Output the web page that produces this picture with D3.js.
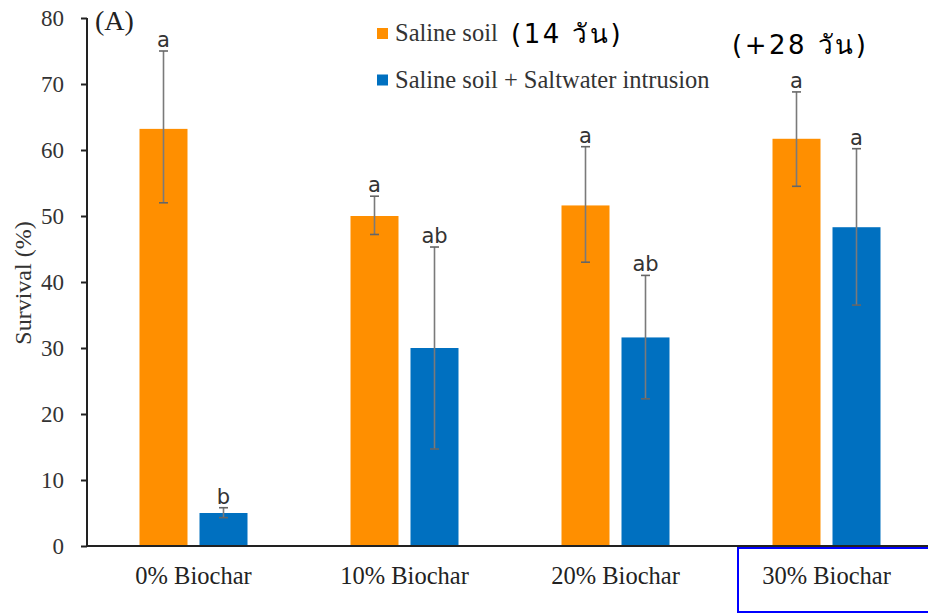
<!DOCTYPE html>
<html>
<head>
<meta charset="utf-8">
<script src="https://cdn.jsdelivr.net/npm/d3@7"></script>
<style>
  html, body { margin: 0; padding: 0; background: #fff; }
  svg { display: block; }
</style>
</head>
<body>
<svg id="chart" width="928" height="614"></svg>
<script>
// Treatments (biochar share) and the two soil conditions
const categories = ["0% Biochar", "10% Biochar", "20% Biochar", "30% Biochar"];
const seriesNames = ["Saline soil", "Saline soil + Saltwater intrusion"];

// Mean survival (%) per treatment
const salineMean = [63.2, 50.0, 51.6, 61.7];
const intrusionMean = [5.0, 30.0, 31.6, 48.3];

// Error bar limits (low / high)
const salineLow = [52.0, 47.2, 43.0, 54.5];
const salineHigh = [75.0, 53.0, 60.5, 68.8];
const intrusionLow = [4.3, 14.7, 22.3, 36.5];
const intrusionHigh = [5.8, 45.3, 41.0, 60.2];

// Significance letters
const salineLetters = ["a", "a", "a", "a"];
const intrusionLetters = ["b", "ab", "ab", "a"];

const yTicks = [0, 10, 20, 30, 40, 50, 60, 70, 80];
const colors = ["#FF8F00", "#0070C0"];

const svg = d3.select("#chart");
const serif = "'Liberation Serif', 'Times New Roman', serif";
const sans = "'DejaVu Sans', 'Open Sans', sans-serif";

const x = d3.scaleBand().domain(categories).range([88, 932]);
const y = d3.scaleLinear().domain([0, 80]).range([546, 18]);
const barW = 48, offset = 30;

// Bars and error bars for each series
const series = [
  { mean: salineMean, low: salineLow, high: salineHigh, letters: salineLetters, dx: -offset, color: colors[0] },
  { mean: intrusionMean, low: intrusionLow, high: intrusionHigh, letters: intrusionLetters, dx: offset, color: colors[1] }
];

series.forEach(s => {
  const rows = categories.map((c, i) => ({
    c, v: s.mean[i], lo: s.low[i], hi: s.high[i], l: s.letters[i],
    cx: x(c) + x.bandwidth() / 2 + s.dx
  }));
  const g = svg.append("g");
  g.selectAll("rect").data(rows).join("rect")
    .attr("x", d => d.cx - barW / 2)
    .attr("y", d => y(d.v))
    .attr("width", barW)
    .attr("height", d => y(0) - y(d.v))
    .attr("fill", s.color);

  g.selectAll("line.stem").data(rows).join("line")
    .attr("class", "stem")
    .attr("x1", d => d.cx).attr("x2", d => d.cx)
    .attr("y1", d => y(d.lo)).attr("y2", d => y(d.hi))
    .attr("stroke", "#7a7a7a").attr("stroke-width", 1.6);
  ["lo", "hi"].forEach(k => {
    g.selectAll("line.cap-" + k).data(rows).join("line")
      .attr("class", "cap-" + k)
      .attr("x1", d => d.cx - 4.5).attr("x2", d => d.cx + 4.5)
      .attr("y1", d => y(d[k])).attr("y2", d => y(d[k]))
      .attr("stroke", "#666").attr("stroke-width", 1.6);
  });

  g.selectAll("text").data(rows).join("text")
    .attr("x", d => d.cx)
    .attr("y", d => y(d.hi) - 4)
    .attr("text-anchor", "middle")
    .attr("font-family", sans)
    .attr("font-size", 21)
    .attr("fill", "#333")
    .text(d => d.l);
});

// Y axis
const yAxis = svg.append("g")
  .attr("transform", "translate(87,0)")
  .call(d3.axisLeft(y).tickValues(yTicks).tickSize(6).tickPadding(17));
yAxis.select(".domain").attr("stroke", "#222").attr("stroke-width", 2)
  .attr("d", `M0,${y(80)}V${y(0)}`);
yAxis.selectAll(".tick line").attr("stroke", "#222").attr("stroke-width", 2);
yAxis.selectAll(".tick text")
  .attr("font-family", serif).attr("font-size", 23).attr("fill", "#333");

// X axis
const xAxis = svg.append("g")
  .attr("transform", `translate(0,${y(0)})`)
  .call(d3.axisBottom(x).tickSize(0));
xAxis.select(".domain").attr("stroke", "#222").attr("stroke-width", 2)
  .attr("d", `M87,0H932`);
xAxis.selectAll(".tick text")
  .attr("y", 38).attr("dy", null)
  .attr("font-family", serif).attr("font-size", 24.5).attr("fill", "#222");

// Y axis title
svg.append("text")
  .attr("transform", `translate(31,283) rotate(-90)`)
  .attr("text-anchor", "middle")
  .attr("font-family", serif).attr("font-size", 24).attr("fill", "#333")
  .text("Survival (%)");

// Panel tag
svg.append("text")
  .attr("x", 95).attr("y", 30)
  .attr("font-family", serif).attr("font-size", 28).attr("fill", "#222")
  .text("(A)");

// Legend
const legend = svg.append("g");
seriesNames.forEach((name, i) => {
  const ly = 33.5 + i * 46.5;
  legend.append("rect")
    .attr("x", 377).attr("y", ly - 5.5).attr("width", 11).attr("height", 11)
    .attr("fill", colors[i]);
  legend.append("text")
    .attr("x", 395).attr("y", ly + 7.5)
    .attr("font-family", serif).attr("font-size", 24.5).attr("fill", "#333")
    .text(name);
});

// Time annotations
svg.append("text")
  .attr("x", 511).attr("y", 43)
  .attr("font-family", sans).attr("font-size", 26).attr("letter-spacing", 2.5).attr("fill", "#000")
  .text("(14 วัน)");
svg.append("text")
  .attr("x", 732).attr("y", 54)
  .attr("font-family", sans).attr("font-size", 26).attr("letter-spacing", 2.5).attr("fill", "#000")
  .text("(+28 วัน)");

// Highlight frame around the last category label
svg.append("rect")
  .attr("x", 738).attr("y", 548).attr("width", 200).attr("height", 64)
  .attr("fill", "none").attr("stroke", "#0000FF").attr("stroke-width", 2);
</script>
</body>
</html>
